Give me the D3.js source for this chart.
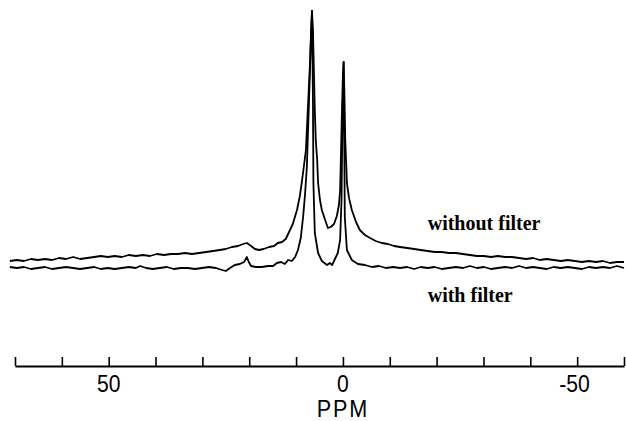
<!DOCTYPE html>
<html>
<head>
<meta charset="utf-8">
<script src="https://cdn.jsdelivr.net/npm/d3@7"></script>
<style>
  body { margin: 0; background: #fff; }
  svg { display: block; }
</style>
</head>
<body>
<div id="chart"></div>
<script>
// Spectrum traces (ppm, intensity in arbitrary units)
var withoutPpm = [71.1, 69.6, 68.1, 66.6, 65.1, 63.6, 62.1, 60.6, 59.1, 57.6, 56.1, 54.6, 53.1, 51.7, 50.2, 48.7, 47.2, 45.7, 44.2, 42.7, 41.2, 39.7, 38.2, 36.7, 35.2, 33.7, 32.2, 30.7, 29.2, 27.7, 26.3, 25.0, 23.7, 22.4, 21.3, 20.5, 19.6, 18.8, 17.9, 16.9, 15.8, 14.7, 13.9, 13.0, 12.2, 11.5, 10.7, 9.8, 9.2, 8.8, 8.3, 7.9, 7.5, 7.0, 6.8, 6.6, 6.4, 6.2, 6.0, 5.8, 5.5, 5.3, 4.9, 4.5, 3.8, 3.2, 2.6, 1.9, 1.3, 0.85, 0.6, 0.4, 0.2, 0.0, -0.15, -0.3, -0.5, -0.75, -0.85, -1.3, -1.9, -2.8, -3.6, -4.7, -5.8, -7.0, -8.3, -9.6, -10.9, -12.2, -13.7, -15.2, -16.6, -18.1, -19.6, -21.1, -22.6, -24.1, -25.6, -27.1, -28.6, -30.1, -31.6, -33.1, -34.6, -36.1, -37.6, -39.1, -40.6, -42.0, -43.5, -45.0, -46.5, -48.0, -49.5, -51.0, -52.5, -54.0, -55.5, -57.0, -58.5, -60.0];
var withoutInt = [9, 10, 9, 11, 10, 11, 10, 12, 11, 13, 11, 12, 13, 14, 13, 14, 13, 15, 14, 15, 14, 16, 15, 16, 16, 17, 16, 17, 18, 19, 20, 21, 23, 24, 26, 27, 24, 21, 20, 21, 23, 24, 27, 28, 31, 38, 46, 60, 74, 87, 105, 120, 160, 210, 240, 259, 240, 200, 160, 130, 110, 87, 70, 60, 50, 42, 43, 46, 54, 65, 80, 120, 160, 195, 208, 180, 130, 100, 87, 72, 60, 48, 40, 35, 32, 29, 27, 26, 24, 23, 22, 21, 20, 19, 18, 18, 17, 17, 16, 15, 14, 14, 13, 14, 13, 13, 12, 11, 12, 10, 11, 10, 9, 10, 9, 8, 9, 8, 9, 7, 8, 8];

var withPpm = [71.1, 69.6, 68.1, 66.6, 65.1, 63.6, 62.1, 60.6, 59.1, 57.6, 56.1, 54.6, 53.1, 51.7, 50.2, 48.7, 47.2, 45.7, 44.2, 43.3, 42.0, 40.6, 39.1, 37.6, 36.1, 34.6, 33.1, 31.6, 30.1, 28.6, 27.1, 25.8, 25.0, 24.1, 23.1, 22.0, 21.1, 20.5, 20.1, 19.6, 18.6, 17.3, 16.0, 14.9, 14.1, 13.2, 12.4, 11.7, 10.9, 10.2, 9.6, 9.0, 8.5, 8.1, 7.7, 7.3, 6.9, 6.6, 6.4, 6.3, 6.0, 5.3, 4.5, 3.4, 2.8, 2.3, 1.7, 1.1, 0.6, 0.3, 0.1, -0.15, -0.3, -0.4, -0.85, -1.9, -3.2, -4.7, -6.2, -7.7, -9.2, -10.7, -12.2, -13.7, -15.2, -16.6, -18.1, -19.6, -21.1, -22.6, -24.1, -25.6, -27.1, -28.6, -30.1, -31.6, -33.1, -34.6, -36.1, -37.6, -39.1, -40.6, -42.0, -43.5, -45.0, -46.5, -48.0, -49.5, -51.0, -52.5, -54.0, -55.5, -57.0, -58.5, -60.0];
var withInt = [3, 2, 3, 1, 2, 3, 1, 2, 3, 2, 1, 2, 3, 1, 2, 1, 2, 3, 2, 4, 2, 1, 2, 3, 1, 2, 2, 1, 2, 3, 2, 0, -1, 2, 5, 6, 8, 13, 8, 4, 3, 3, 4, 4, 7, 8, 6, 10, 9, 13, 20, 32, 53, 75, 103, 160, 220, 259, 170, 87, 37, 17, 9, 5, 7, 5, 11, 17, 30, 70, 150, 208, 120, 53, 20, 10, 6, 5, 3, 4, 2, 3, 2, 3, 1, 3, 2, 3, 1, 2, 3, 2, 4, 2, 3, 1, 2, 3, 2, 4, 2, 3, 2, 1, 3, 2, 3, 2, 1, 3, 2, 3, 2, 4, 2];

// Axis ticks and labels
var tickPpm = [70, 60, 50, 40, 30, 20, 10, 0, -10, -20, -30, -40, -50, -60];
var labelPpm = [50, 0, -50];

// Trace labels: [text, ppm, intensity]
var traceLabels = [
    ["without filter", -18.1, 40],
    ["with filter", -18.1, -32]
];

var width = 626, height = 421;

var svg = d3.select("#chart")
    .append("svg")
    .attr("width", width)
    .attr("height", height);

var x = d3.scaleLinear()
    .domain([70, -60])
    .range([15, 624]);

var y = d3.scaleLinear()
    .domain([0, 260])
    .range([270, 10]);

var line = d3.line()
    .x(function (d) { return x(d[0]); })
    .y(function (d) { return y(d[1]); });

// Draw both spectra
[[withoutPpm, withoutInt], [withPpm, withInt]].forEach(function (s) {
    svg.append("path")
        .datum(d3.zip(s[0], s[1]))
        .attr("d", line)
        .attr("fill", "none")
        .attr("stroke", "#000")
        .attr("stroke-width", 1.8)
        .attr("stroke-linejoin", "round");
});

// Trace labels
svg.selectAll(".trace-label")
    .data(traceLabels)
    .enter()
    .append("text")
    .attr("class", "trace-label")
    .attr("x", function (d) { return x(d[1]); })
    .attr("y", function (d) { return y(d[2]); })
    .style("font-family", "'Liberation Serif', 'Times New Roman', serif")
    .style("font-weight", "bold")
    .style("font-size", "20px")
    .text(function (d) { return d[0]; });

// PPM axis, ticks pointing up
var axisY = 366;
var axis = svg.append("g")
    .attr("transform", "translate(0," + axisY + ")")
    .call(d3.axisBottom(x)
        .tickValues(tickPpm)
        .tickSize(-9)
        .tickSizeOuter(0)
        .tickFormat(""));

axis.select(".domain")
    .attr("stroke-width", 1.8);
axis.selectAll(".tick line")
    .attr("stroke-width", 1.6);

// Narrow looking labels: squeeze the sans font horizontally
svg.selectAll(".ppm-label")
    .data(labelPpm)
    .enter()
    .append("text")
    .attr("class", "ppm-label")
    .attr("transform", function (d) {
        // keep the "50" part over the tick for -50
        var px = d < 0 ? x(d) + 12.5 : x(d);
        return "translate(" + px + ",392) scale(0.88,1)";
    })
    .attr("text-anchor", function (d) { return d < 0 ? "end" : "middle"; })
    .style("font-family", "'Liberation Sans', Arial, sans-serif")
    .style("font-size", "24px")
    .text(function (d) { return d < 0 ? "-" + Math.abs(d) : d; });

svg.append("text")
    .attr("transform", "translate(" + x(0) + ",417) scale(0.9,1)")
    .attr("text-anchor", "middle")
    .style("font-family", "'Liberation Sans', Arial, sans-serif")
    .style("font-size", "24px")
    .style("letter-spacing", "2px")
    .text("PPM");
</script>
</body>
</html>
